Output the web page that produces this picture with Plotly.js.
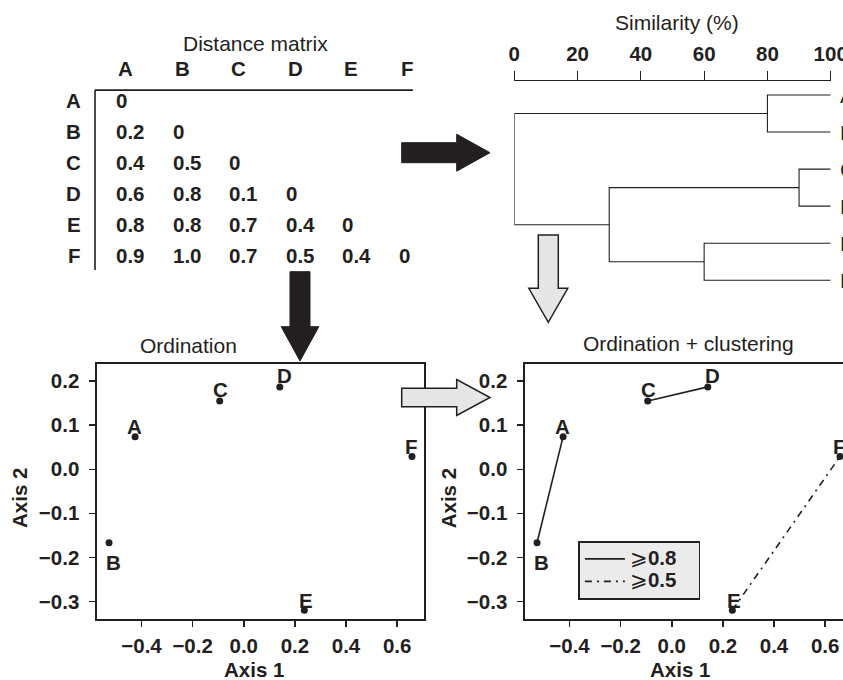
<!DOCTYPE html>
<html>
<head>
<meta charset="utf-8">
<script src="https://cdn.plot.ly/plotly-3.0.1.min.js"></script>
<style>
html,body{margin:0;padding:0;overflow:hidden;background:#fff;width:843px;height:680px;}
#chart{width:870px;height:680px;}
</style>
</head>
<body>
<div id="chart"></div>
<script>
// ---------------- data ----------------
const labels = ['A', 'B', 'C', 'D', 'E', 'F'];
// lower-triangular distance matrix (row i, columns 0..i)
const distRowA = [0];
const distRowB = [0.2, 0];
const distRowC = [0.4, 0.5, 0];
const distRowD = [0.6, 0.8, 0.1, 0];
const distRowE = [0.8, 0.8, 0.7, 0.4, 0];
const distRowF = [0.9, 1.0, 0.7, 0.5, 0.4, 0];
const distRows = [distRowA, distRowB, distRowC, distRowD, distRowE, distRowF];

// dendrogram (similarity %)
const mergeLeft = ['A', 'C', 'E', 'CD', 'AB'];
const mergeRight = ['B', 'D', 'F', 'EF', 'CDEF'];
const mergeName = ['AB', 'CD', 'EF', 'CDEF', 'ABCDEF'];
const mergeSimilarity = [80, 90, 60, 30, 0];
const similarityTicks = [0, 20, 40, 60, 80, 100];

// ordination coordinates
const axis1 = [-0.425, -0.527, -0.094, 0.141, 0.237, 0.658];
const axis2 = [0.074, -0.167, 0.155, 0.187, -0.320, 0.029];

// clustering links drawn on the ordination
const linkFrom = ['A', 'C', 'E'];
const linkTo = ['B', 'D', 'F'];
const linkThreshold = [0.8, 0.8, 0.5];
const thresholds = [0.8, 0.5];

// ---------------- layout helpers ----------------
const W = 870, H = 680;
const fx = p => p / W;
const fy = p => 1 - p / H;
const FONT = 'Liberation Sans, Arial, Helvetica, sans-serif';
const INK = '#231f20';
const GREY = '#e6e6e6';
const boldFont = {family: FONT, size: 20.5, color: INK, weight: 700};
const regFont = {family: FONT, size: 21, color: INK};

const traces = [];

// ---------- dendrogram ----------
const pos = {};
labels.forEach((n, i) => { pos[n] = {x: 100, y: i}; });
const dx = [], dy = [];
mergeName.forEach((n, k) => {
  const a = pos[mergeLeft[k]], b = pos[mergeRight[k]], s = mergeSimilarity[k];
  dx.push(a.x, s, s, b.x, null);
  dy.push(a.y, a.y, b.y, b.y, null);
  pos[n] = {x: s, y: (a.y + b.y) / 2};
});
traces.push({x: dx, y: dy, xaxis: 'x4', yaxis: 'y4', mode: 'lines', cliponaxis: false,
  line: {color: INK, width: 1.1}, showlegend: false, hoverinfo: 'skip'});

// ---------- ordination (left) ----------
traces.push({x: axis1, y: axis2, xaxis: 'x', yaxis: 'y', mode: 'markers',
  marker: {color: INK, size: 7}, showlegend: false, cliponaxis: false});

// ---------- ordination + clustering (right) ----------
const idx = n => labels.indexOf(n);
const dashes = ['solid', '7px,5px,2px,5px'];
thresholds.forEach((t, ti) => {
  const lx = [], ly = [];
  linkFrom.forEach((f, k) => {
    if (linkThreshold[k] !== t) return;
    lx.push(axis1[idx(f)], axis1[idx(linkTo[k])], null);
    ly.push(axis2[idx(f)], axis2[idx(linkTo[k])], null);
  });
  traces.push({x: lx, y: ly, xaxis: 'x2', yaxis: 'y2', mode: 'lines', cliponaxis: false,
    name: '<span style="font-size:20.5px">\u2A7E<b>' + t.toFixed(1) + '</b>\u00a0\u00a0\u00a0</span>',
    line: {color: INK, width: 1.6, dash: dashes[ti]}, showlegend: true});
});
traces.push({x: axis1, y: axis2, xaxis: 'x2', yaxis: 'y2', mode: 'markers',
  marker: {color: INK, size: 7}, showlegend: false, cliponaxis: false});

// ---------------- annotations ----------------
const ann = [];
// distance matrix
labels.forEach((n, c) => {
  ann.push({x: c, y: -1, xref: 'x3', yref: 'y3', text: n, showarrow: false,
    xanchor: 'left', xshift: 2, font: boldFont});
  ann.push({x: -0.55, y: c, xref: 'x3', yref: 'y3', text: n, showarrow: false,
    xanchor: 'right', font: boldFont});
});
distRows.forEach((row, r) => {
  row.forEach((v, c) => {
    ann.push({x: c, y: r, xref: 'x3', yref: 'y3', text: v === 0 ? '0' : v.toFixed(1),
      showarrow: false, xanchor: 'left', font: boldFont});
  });
});
// dendrogram leaf labels
labels.forEach((n, i) => {
  ann.push({x: 100, y: i, xref: 'x4', yref: 'y4', text: n, showarrow: false,
    xanchor: 'left', xshift: 7, font: regFont});
});
// point labels
const labelDx = [-1, 4, 1, 5, 2, 0];
const labelDy = [10, -20, 11.5, 11, 10, 10];
['', '2'].forEach(s => {
  labels.forEach((n, i) => {
    ann.push({x: axis1[i], y: axis2[i], xref: 'x' + s, yref: 'y' + s, text: n, showarrow: false,
      xshift: labelDx[i], yshift: labelDy[i], font: boldFont});
  });
});
// titles
const pt = (text, x, y, font, extra) => Object.assign({text, x: fx(x), y: fy(y), xref: 'paper', yref: 'paper',
  showarrow: false, xanchor: 'center', yanchor: 'middle', font}, extra || {});
ann.push(pt('Distance matrix', 255.7, 43.5, regFont));
ann.push(pt('Similarity (%)', 676.7, 23, regFont));
ann.push(pt('Ordination', 188.7, 345, regFont));
ann.push(pt('Ordination + clustering', 688.2, 343, regFont));
ann.push(pt('Axis 2', 20, 498, boldFont, {textangle: -90}));
ann.push(pt('Axis 2', 449.3, 498, boldFont, {textangle: -90}));
ann.push(pt('Axis 1', 253.7, 669, boldFont));
ann.push(pt('Axis 1', 680, 669, boldFont));

// ---------------- shapes (arrows, matrix rules) ----------------
const P = (x, y) => fx(x).toFixed(5) + ',' + fy(y).toFixed(5);
function arrowRight(x0, xh, xt, yc, bh, hh) {
  return 'M' + P(x0, yc - bh) + 'L' + P(xh, yc - bh) + 'L' + P(xh, yc - hh) + 'L' + P(xt, yc) +
    'L' + P(xh, yc + hh) + 'L' + P(xh, yc + bh) + 'L' + P(x0, yc + bh) + 'Z';
}
function arrowDown(y0, yh, yt, xc, bh, hh) {
  return 'M' + P(xc - bh, y0) + 'L' + P(xc - bh, yh) + 'L' + P(xc - hh, yh) + 'L' + P(xc, yt) +
    'L' + P(xc + hh, yh) + 'L' + P(xc + bh, yh) + 'L' + P(xc + bh, y0) + 'Z';
}
const shapes = [
  {type: 'line', xref: 'x3', yref: 'y3', x0: -0.336, x1: 5.29, y0: -0.32, y1: -0.32, line: {color: INK, width: 1.6}},
  {type: 'line', xref: 'x3', yref: 'y3', x0: -0.336, x1: -0.336, y0: -0.32, y1: 5.48, line: {color: INK, width: 1.6}},
  {type: 'path', xref: 'paper', yref: 'paper', layer: 'above', path: arrowRight(401.7, 456.7, 490, 152.7, 10, 18.5),
    fillcolor: INK, line: {color: INK, width: 1}},
  {type: 'path', xref: 'paper', yref: 'paper', layer: 'above', path: arrowDown(271.7, 326.7, 361, 300, 10, 18.8),
    fillcolor: INK, line: {color: INK, width: 1}},
  {type: 'path', xref: 'paper', yref: 'paper', layer: 'above', path: arrowDown(235, 288.3, 322.3, 548.3, 10, 19.5),
    fillcolor: GREY, line: {color: INK, width: 1.5}},
  {type: 'path', xref: 'paper', yref: 'paper', layer: 'above', path: arrowRight(401.7, 456.7, 490, 397.5, 9.2, 18),
    fillcolor: GREY, line: {color: INK, width: 1.5}}
];

// ---------------- axes ----------------
const scatterAxis = (extra) => Object.assign({
  showline: true, mirror: true, linecolor: INK, linewidth: 1.6,
  ticks: 'outside', ticklen: 6, tickwidth: 1.5, tickcolor: INK,
  showgrid: false, zeroline: false, tickformat: '.1f', tickfont: boldFont, fixedrange: true
}, extra);
const xr = [-0.574, 0.705], yr = [-0.340, 0.239];

const layout = {
  width: W, height: H, margin: {l: 0, r: 0, t: 0, b: 0},
  paper_bgcolor: '#ffffff', plot_bgcolor: 'rgba(0,0,0,0)',
  font: {family: FONT, color: INK},
  xaxis: scatterAxis({domain: [fx(97), fx(424)], range: xr, dtick: 0.2, tick0: 0, anchor: 'y', ticklabelstandoff: 2}),
  yaxis: scatterAxis({domain: [fy(619), fy(364)], range: yr, dtick: 0.1, tick0: 0, anchor: 'x', ticklabelstandoff: 6}),
  xaxis2: scatterAxis({domain: [fx(525), fx(852)], range: xr, dtick: 0.2, tick0: 0, anchor: 'y2', ticklabelstandoff: 2}),
  yaxis2: scatterAxis({domain: [fy(619), fy(364)], range: yr, dtick: 0.1, tick0: 0, anchor: 'x2', ticklabelstandoff: 6}),
  xaxis3: {domain: [fx(20), fx(420)], range: [-1.664, 5.416], visible: false, anchor: 'y3', fixedrange: true},
  yaxis3: {domain: [fy(280), fy(50)], range: [5.806, -1.613], visible: false, anchor: 'x3', fixedrange: true},
  xaxis4: {domain: [fx(514.3), fx(830.7)], range: [0, 100], side: 'top', anchor: 'y4',
    tickmode: 'array', tickvals: similarityTicks, ticktext: similarityTicks.map(String),
    showline: true, linecolor: INK, linewidth: 1.2, ticks: 'outside', ticklen: 9, tickwidth: 1.2, tickcolor: INK,
    showgrid: false, zeroline: false, tickfont: boldFont, ticklabelstandoff: 2, fixedrange: true},
  yaxis4: {domain: [fy(300), fy(81)], range: [5.532, -0.378], visible: false, anchor: 'x4', fixedrange: true},
  showlegend: true,
  legend: {x: fx(578.3), y: fy(541), xanchor: 'left', yanchor: 'top', bgcolor: '#ebebeb',
    bordercolor: INK, borderwidth: 1.6, font: {family: FONT, size: 15, color: INK},
    itemwidth: 40, tracegroupgap: 0},
  annotations: ann,
  shapes: shapes
};

Plotly.newPlot('chart', traces, layout, {staticPlot: true, displayModeBar: false});
</script>
</body>
</html>
